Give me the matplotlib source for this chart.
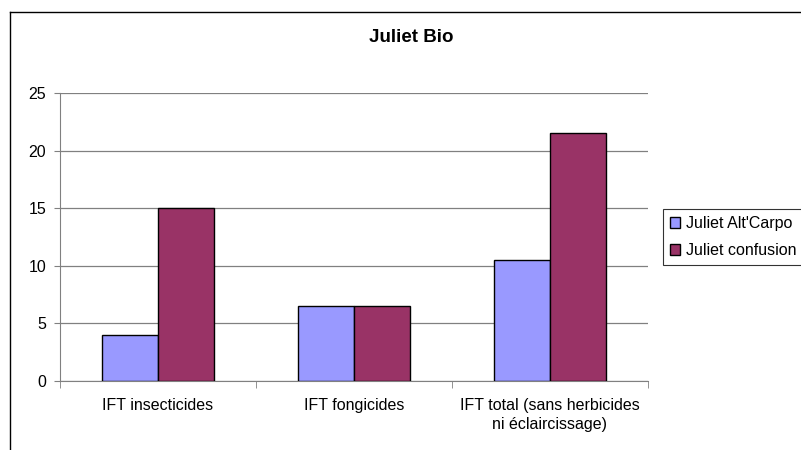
import numpy as np
import matplotlib.pyplot as plt
from matplotlib.lines import Line2D

plt.rcParams['font.family'] = ['Liberation Sans', 'DejaVu Sans']

categories = ["IFT insecticides", "IFT fongicides", "IFT total (sans herbicides\nni éclaircissage)"]
alt_carpo = [4, 6.5, 10.5]
confusion = [15, 6.5, 21.5]
series_names = ["Juliet Alt'Carpo", "Juliet confusion"]
colors = ["#9999FF", "#993366"]

W, H = 801, 450
fig = plt.figure(figsize=(W / 100, H / 100), dpi=100)
ax = fig.add_axes([60 / W, (H - 381) / H, (648 - 60) / W, (381 - 93) / H])

x = np.arange(len(categories))
bw = 1 / 3.5
ax.bar(x - bw / 2, alt_carpo, bw, color=colors[0], edgecolor="black", linewidth=1, label=series_names[0], zorder=3)
ax.bar(x + bw / 2, confusion, bw, color=colors[1], edgecolor="black", linewidth=1, label=series_names[1], zorder=3)

ax.set_xlim(-0.5, len(categories) - 0.5)
ax.set_ylim(0, 25)
ax.set_yticks(range(0, 26, 5))
ax.yaxis.grid(True, color="#808080", linewidth=0.9, zorder=0)
ax.set_xticks(x)
ax.set_xticklabels(categories, fontsize=11.5, linespacing=1.4)
ax.set_xticks(np.arange(-0.5, len(categories)), minor=True)
ax.tick_params(axis="x", which="major", length=0, pad=12)
ax.tick_params(axis="x", which="minor", length=5, color="#808080")
ax.tick_params(axis="y", length=4, color="#808080", labelsize=11.5, pad=6)
for s in ["top", "right"]:
    ax.spines[s].set_visible(False)
for s in ["left", "bottom"]:
    ax.spines[s].set_color("#808080")

fig.text(411 / W, 1 - 38 / H, "Juliet Bio", ha="center", va="center", fontsize=13.5, fontweight="bold")

leg = fig.legend(loc="upper left", bbox_to_anchor=(663 / W, 1 - 209 / H), fontsize=11.5,
                 frameon=True, fancybox=False, edgecolor="black", handlelength=0.6, handleheight=0.6,
                 handletextpad=0.4, borderpad=0.45, labelspacing=0.75, borderaxespad=0)
leg.get_frame().set_linewidth(0.8)

fig.add_artist(Line2D([10 / W, 10 / W], [0, 1 - 12 / H], color="black", linewidth=1))
fig.add_artist(Line2D([10 / W, 1], [1 - 12 / H, 1 - 12 / H], color="black", linewidth=1))

fig.savefig("out.png", dpi=100)
